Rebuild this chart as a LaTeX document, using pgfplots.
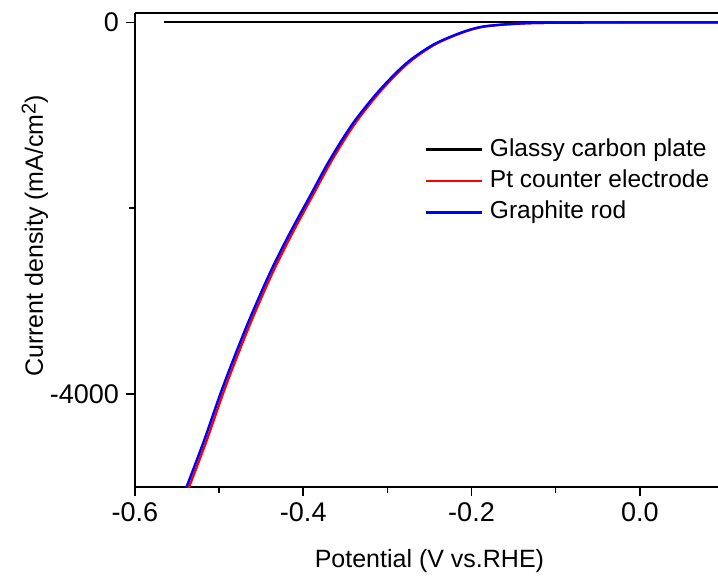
\documentclass[border=0pt]{standalone}
\usepackage{fontspec}
\setmainfont{Liberation Sans}
\usepackage{pgfplots}
\pgfplotsset{compat=1.18}

\begin{document}
\begin{tikzpicture}
\begin{axis}[
  scale only axis,
  width=291.5pt, height=237pt,
  xmin=-0.6, xmax=0.093,
  ymin=-5000, ymax=100,
  axis x line*=box,
  axis y line*=left,
  axis line style={line width=0.9pt},
  xtick pos=left, ytick pos=left,
  tick align=outside,
  major tick length=4.5pt, minor tick length=3pt,
  every tick/.style={black, line width=0.8pt},
  xtick={-0.6,-0.4,-0.2,0.0},
  xticklabels={-0.6,-0.4,-0.2,0.0},
  minor xtick={-0.5,-0.3,-0.1},
  ytick={-4000,0},
  yticklabels={-4000,0},
  minor ytick={-2000},
  tick label style={font=\fontsize{13.5}{16}\selectfont},
  label style={font=\fontsize{12.5}{15}\selectfont},
  xlabel={Potential (V vs.RHE)},
  ylabel={Current density (mA/cm\raisebox{0.55ex}{\fontsize{10}{12}\selectfont 2})},
  xlabel style={at={(axis description cs:0.505,-0.169)}, anchor=base},
  ylabel style={at={(axis description cs:-0.158,0.53)}, anchor=base, rotate=0},
  legend style={at={(axis description cs:0.4957,0.746)}, anchor=north west,
    draw=none, fill=none, inner sep=0pt, row sep=0pt,
    font=\fontsize{12.25}{15}\selectfont,
    nodes={text height=9.5pt, text depth=3pt, inner sep=1.6pt},
    /tikz/every odd column/.append style={column sep=2pt}},
  legend cell align=left,
  legend image code/.code={\draw[#1, line width=1.2pt] (0pt,0pt) -- (28pt,0pt);},
]
\addplot[black, line width=1.1pt] coordinates {(-0.565,0) (0.1,0)};
\addlegendentry{Glassy carbon plate}

\addplot[red, line width=1.2pt, smooth] coordinates {
(-0.5400,-5100) (-0.5161,-4530) (-0.4924,-3920) (-0.4645,-3274)
(-0.4368,-2700) (-0.4130,-2269) (-0.3895,-1875) (-0.3657,-1480)
(-0.3382,-1085) (-0.3068,-727) (-0.2753,-439) (-0.2442,-242)
(-0.2127,-116) (-0.1891,-52) (-0.1658,-27) (-0.1395,-12)
(-0.1200,-6) (-0.0800,-3) (0.0000,-1) (0.1000,0)
};
\addlegendentry{Pt counter electrode}

\addplot[blue, line width=1.2pt, smooth] coordinates {
(-0.5430,-5100) (-0.5191,-4530) (-0.4954,-3920) (-0.4675,-3274)
(-0.4398,-2700) (-0.4160,-2269) (-0.3923,-1875) (-0.3685,-1480)
(-0.3408,-1085) (-0.3090,-727) (-0.2773,-439) (-0.2457,-242)
(-0.2139,-116) (-0.1901,-52) (-0.1666,-27) (-0.1400,-12)
(-0.1200,-6) (-0.0800,-3) (0.0000,-1) (0.1000,0)
};
\addlegendentry{Graphite rod}
\end{axis}
\pgfresetboundingbox
\path (-67.5pt,-44pt) rectangle (291.5pt,243.5pt);
\end{tikzpicture}
\end{document}
